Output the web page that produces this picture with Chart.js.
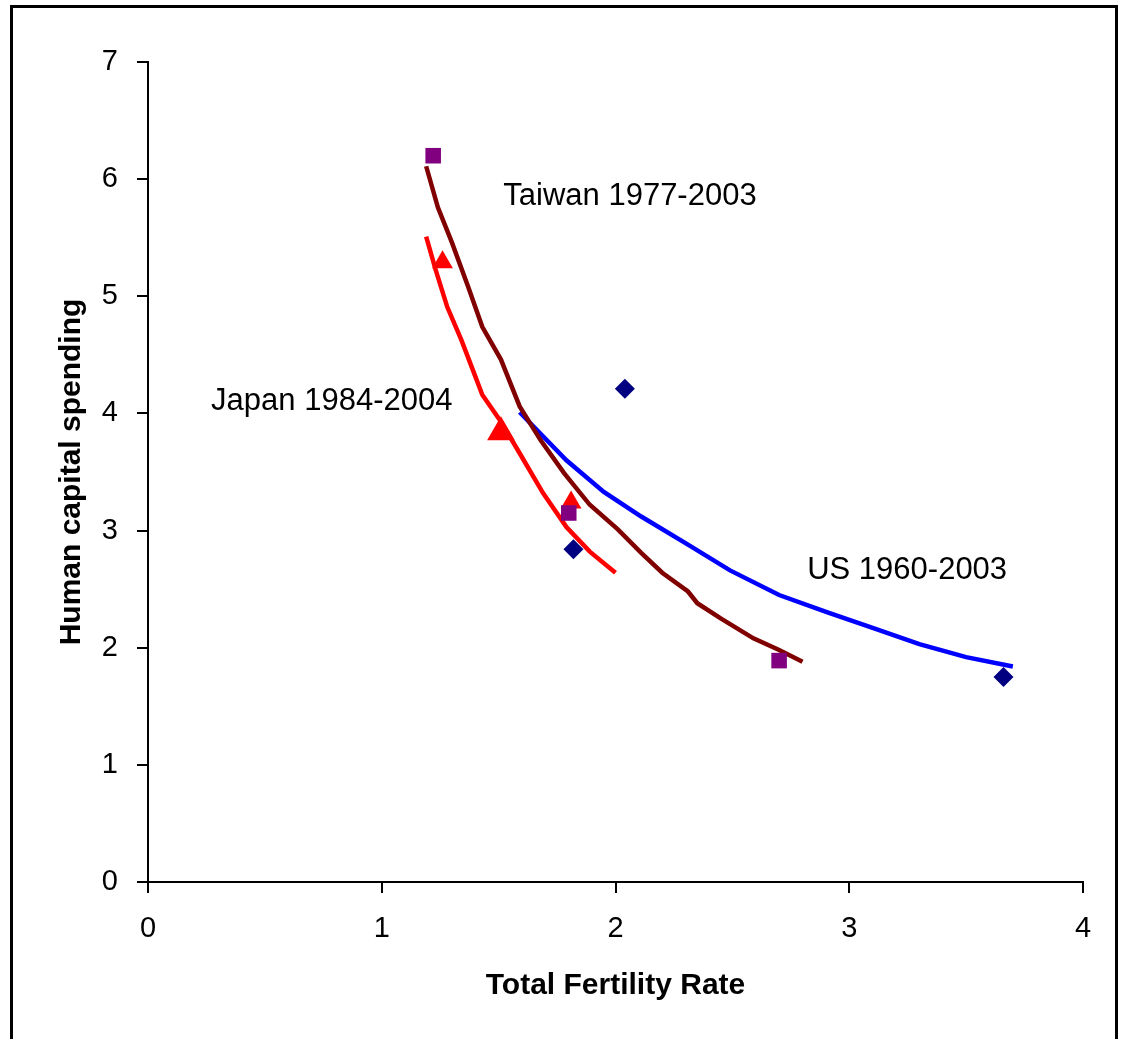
<!DOCTYPE html>
<html lang="en">
<head>
  <meta charset="UTF-8">
  <title>Human capital spending vs Total Fertility Rate</title>
  <style>
    body {
      margin: 0;
      padding: 0;
      background-color: #fff;
      font-family: "Liberation Sans", Arial, sans-serif;
    }

    .wrap {
      position: relative;
      width: 1124px;
      height: 1039px;
      overflow: hidden;
    }

    .frame {
      position: absolute;
      left: 10px;
      top: 5px;
      width: 1102px;
      height: 1100px;
      border: 3px solid #000;
      border-bottom: none;
      pointer-events: none;
    }
  </style>
</head>
<body>
  <div class="wrap">
    <canvas id="myChart" width="1124" height="1039"></canvas>
    <div class="frame"></div>
  </div>
  <script src="https://cdn.jsdelivr.net/npm/chart.js"></script>
  <script>
    // observed points
    var usX = [2.04, 1.82, 3.66];
    var usY = [4.21, 2.84, 1.75];
    var taiwanX = [1.22, 1.80, 2.70];
    var taiwanY = [6.20, 3.15, 1.89];
    var japanX = [1.26, 1.51, 1.81];
    var japanY = [5.29, 3.84, 3.24];

    // fitted curves
    var usFitX = [1.59, 1.79, 1.95, 2.11, 2.31, 2.49, 2.70, 2.91, 3.10, 3.30, 3.50, 3.70];
    var usFitY = [4.01, 3.60, 3.33, 3.12, 2.88, 2.66, 2.45, 2.30, 2.17, 2.03, 1.92, 1.84];
    var taiwanFitX = [1.19, 1.24, 1.30, 1.37, 1.43, 1.51, 1.59, 1.68, 1.78, 1.89, 2.01, 2.11, 2.20, 2.31, 2.35, 2.45, 2.59, 2.70, 2.80];
    var taiwanFitY = [6.11, 5.76, 5.46, 5.08, 4.74, 4.46, 4.06, 3.77, 3.49, 3.22, 3.01, 2.81, 2.64, 2.48, 2.38, 2.25, 2.08, 1.98, 1.88];
    var japanFitX = [1.19, 1.23, 1.28, 1.34, 1.39, 1.43, 1.51, 1.59, 1.69, 1.79, 1.89, 2.00];
    var japanFitY = [5.51, 5.23, 4.91, 4.63, 4.37, 4.16, 3.93, 3.66, 3.32, 3.03, 2.82, 2.64];

    // text labels placed in data units
    var noteText = ['Taiwan 1977-2003', 'Japan 1984-2004', 'US 1960-2003'];
    var noteX = [1.52, 0.27, 2.82];
    var noteY = [5.85, 4.10, 2.66];

    var xTicks = [0, 1, 2, 3, 4];
    var yTicks = [0, 1, 2, 3, 4, 5, 6, 7];

    function pairs(xs, ys) {
      return xs.map(function(x, i) { return { x: x, y: ys[i] }; });
    }

    var notesPlugin = {
      id: 'notes',
      afterDatasetsDraw: function(chart) {
        var c = chart.ctx;
        var xs = chart.scales.x;
        var ys = chart.scales.y;
        c.save();
        c.font = '31px "Liberation Sans", Arial, sans-serif';
        c.fillStyle = '#000';
        c.textAlign = 'left';
        c.textBaseline = 'middle';
        noteText.forEach(function(t, i) {
          c.fillText(t, xs.getPixelForValue(noteX[i]), ys.getPixelForValue(noteY[i]));
        });
        c.restore();
      }
    };

    var tickFont = { family: '"Liberation Sans", Arial, sans-serif', size: 29 };
    var titleFont = { family: '"Liberation Sans", Arial, sans-serif', size: 30, weight: 'bold' };

    var ctx = document.getElementById('myChart').getContext('2d');
    var myChart = new Chart(ctx, {
      type: 'scatter',
      data: {
        datasets: [{
          label: 'US',
          data: pairs(usX, usY),
          pointStyle: 'rectRot',
          pointRadius: 10,
          backgroundColor: '#000080',
          borderColor: '#000080',
          borderWidth: 0,
          order: 1
        }, {
          label: 'Taiwan',
          data: pairs(taiwanX, taiwanY),
          pointStyle: 'rect',
          pointRadius: 11,
          backgroundColor: '#800080',
          borderColor: '#800080',
          borderWidth: 0,
          order: 2
        }, {
          label: 'Japan',
          data: pairs(japanX, japanY),
          pointStyle: 'triangle',
          pointRadius: [12, 16, 12],
          backgroundColor: '#ff0000',
          borderColor: '#ff0000',
          borderWidth: 0,
          order: 3
        }, {
          type: 'line',
          label: 'Taiwan fit',
          data: pairs(taiwanFitX, taiwanFitY),
          borderColor: '#800000',
          borderWidth: 4.5,
          pointRadius: 0,
          fill: false,
          tension: 0,
          order: 10
        }, {
          type: 'line',
          label: 'Japan fit',
          data: pairs(japanFitX, japanFitY),
          borderColor: '#ff0000',
          borderWidth: 4.5,
          pointRadius: 0,
          fill: false,
          tension: 0,
          order: 11
        }, {
          type: 'line',
          label: 'US fit',
          data: pairs(usFitX, usFitY),
          borderColor: '#0000ff',
          borderWidth: 4.5,
          pointRadius: 0,
          fill: false,
          tension: 0,
          order: 12
        }]
      },
      options: {
        responsive: false,
        animation: false,
        layout: {
          padding: { top: 62, right: 41, bottom: 0, left: 0 }
        },
        plugins: {
          legend: { display: false },
          tooltip: { enabled: false }
        },
        scales: {
          x: {
            type: 'linear',
            position: 'bottom',
            min: 0,
            max: 4,
            afterBuildTicks: function(scale) {
              scale.ticks = xTicks.map(function(v) { return { value: v }; });
            },
            afterFit: function(scale) {
              scale.height = 157;
            },
            ticks: {
              color: '#000',
              font: tickFont,
              padding: 19
            },
            grid: {
              drawOnChartArea: false,
              drawTicks: true,
              tickLength: 11,
              color: '#000',
              lineWidth: 2
            },
            border: { color: '#000', width: 2 },
            title: {
              display: true,
              text: 'Total Fertility Rate',
              color: '#000',
              font: titleFont,
              padding: { top: 0, bottom: 35 }
            }
          },
          y: {
            type: 'linear',
            position: 'left',
            min: 0,
            max: 7,
            afterBuildTicks: function(scale) {
              scale.ticks = yTicks.map(function(v) { return { value: v }; });
            },
            afterFit: function(scale) {
              scale.width = 148;
            },
            ticks: {
              color: '#000',
              font: tickFont,
              padding: 19
            },
            grid: {
              drawOnChartArea: false,
              drawTicks: true,
              tickLength: 11,
              color: '#000',
              lineWidth: 2
            },
            border: { color: '#000', width: 2 },
            title: {
              display: true,
              text: 'Human capital spending',
              color: '#000',
              font: titleFont,
              padding: { top: 54, bottom: 0 }
            }
          }
        }
      },
      plugins: [notesPlugin]
    });
  </script>
</body>
</html>
